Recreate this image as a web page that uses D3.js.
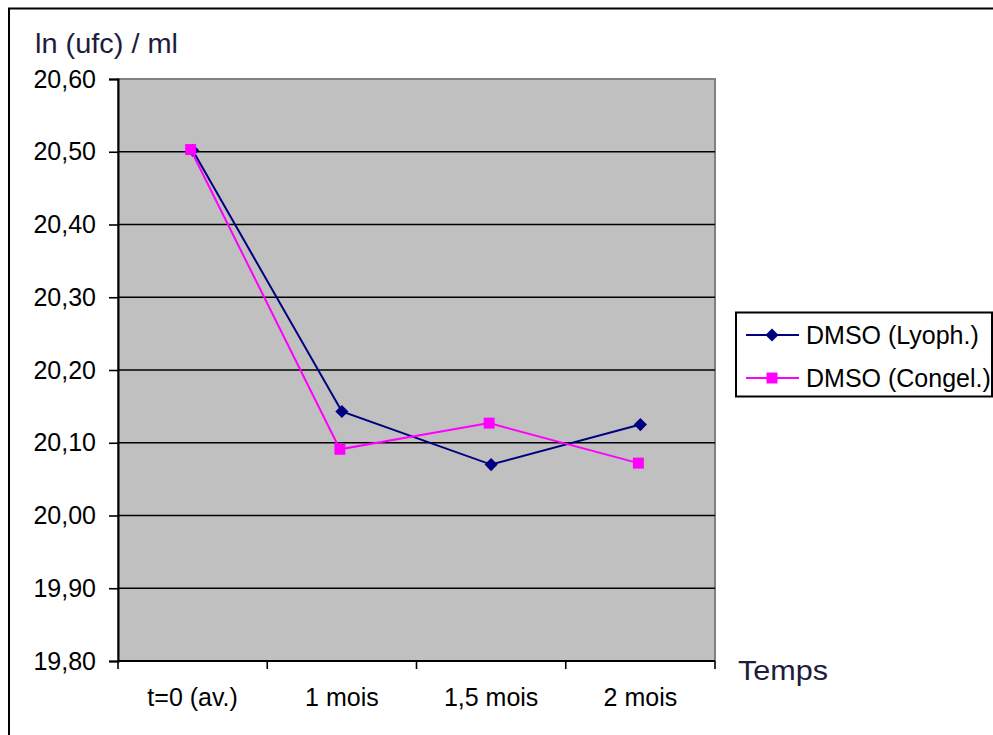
<!DOCTYPE html>
<html>
<head>
<meta charset="utf-8">
<script src="https://cdn.jsdelivr.net/npm/d3@7"></script>
<style>
  html, body { margin: 0; padding: 0; background: #fff; }
  svg { display: block; }
  text { font-family: "Liberation Sans", Arial, sans-serif; }
</style>
</head>
<body>
<svg id="chart" width="993" height="735"></svg>
<script>
// Sampling times and ln(cfu)/ml measurements for both storage methods
const categories = ["t=0 (av.)", "1 mois", "1,5 mois", "2 mois"];
const lyophValues = [20.502, 20.143, 20.070, 20.125];
const congelValues = [20.503, 20.091, 20.127, 20.072];
const yTicks = [19.80, 19.90, 20.00, 20.10, 20.20, 20.30, 20.40, 20.50, 20.60];
const seriesNames = ["DMSO (Lyoph.)", "DMSO (Congel.)"];

const svg = d3.select("#chart");
const W = 993, H = 735;

// outer chart frame
svg.append("rect")
  .attr("x", 9).attr("y", 8.5)
  .attr("width", W + 20).attr("height", H + 20)
  .attr("fill", "#fff").attr("stroke", "#000").attr("stroke-width", 2);

const plot = { left: 118, right: 715, top: 79, bottom: 661 };

const x = d3.scaleBand().domain(categories).range([plot.left, plot.right]).padding(0);
const y = d3.scaleLinear().domain([19.80, 20.60]).range([plot.bottom, plot.top]);

// plot area
svg.append("rect")
  .attr("x", plot.left).attr("y", plot.top)
  .attr("width", plot.right - plot.left).attr("height", plot.bottom - plot.top)
  .attr("fill", "#c0c0c0").attr("stroke", "#808080").attr("stroke-width", 2);

// horizontal gridlines
svg.append("g").selectAll("line")
  .data(yTicks.filter(t => t > 19.80 && t < 20.60))
  .join("line")
  .attr("x1", plot.left).attr("x2", plot.right)
  .attr("y1", d => y(d)).attr("y2", d => y(d))
  .attr("stroke", "#000").attr("stroke-width", 1.6);

const fmt = v => v.toFixed(2).replace(".", ",");

// y axis
const yAxis = svg.append("g")
  .attr("transform", `translate(${plot.left},0)`)
  .call(d3.axisLeft(y).tickValues(yTicks).tickFormat(fmt).tickSize(9).tickPadding(13));
yAxis.select(".domain").attr("stroke", "#000").attr("stroke-width", 2);
yAxis.selectAll(".tick line").attr("stroke", "#000").attr("stroke-width", 1.6);
yAxis.selectAll(".tick text")
  .attr("font-size", 25).attr("fill", "#000")
  .attr("font-family", "'Liberation Sans', Arial, sans-serif");

// x axis with ticks at category boundaries
const xAxisG = svg.append("g").attr("transform", `translate(0,${plot.bottom})`);
xAxisG.append("line")
  .attr("x1", plot.left).attr("x2", plot.right)
  .attr("stroke", "#000").attr("stroke-width", 2);
const bounds = categories.map(c => x(c)).concat([x(categories[categories.length - 1]) + x.bandwidth()]);
xAxisG.selectAll("line.tk").data(bounds).join("line")
  .attr("class", "tk")
  .attr("x1", d => d).attr("x2", d => d)
  .attr("y1", 0).attr("y2", 8)
  .attr("stroke", "#000").attr("stroke-width", 1.6);
xAxisG.selectAll("text").data(categories).join("text")
  .attr("x", d => x(d) + x.bandwidth() / 2)
  .attr("y", 45)
  .attr("text-anchor", "middle")
  .attr("font-size", 25).attr("fill", "#000")
  .text(d => d);

// axis titles
svg.append("text").attr("x", 35).attr("y", 53)
  .attr("font-size", 28).attr("fill", "#1c1c3c")
  .attr("textLength", 143).attr("lengthAdjust", "spacingAndGlyphs")
  .text("ln (ufc) / ml");
svg.append("text").attr("x", 738).attr("y", 680)
  .attr("font-size", 28).attr("fill", "#1c1c3c")
  .attr("textLength", 90).attr("lengthAdjust", "spacingAndGlyphs")
  .text("Temps");

const cx = d => x(d) + x.bandwidth() / 2;
const line = d3.line().x(d => cx(d.c)).y(d => y(d.v));

const lyoph = categories.map((c, i) => ({ c, v: lyophValues[i] }));
const congel = categories.map((c, i) => ({ c, v: congelValues[i] }));

const diamond = d3.symbol().type(d3.symbolDiamond2).size(110);
const square = d3.symbol().type(d3.symbolSquare).size(120);

// Lyoph series
svg.append("path").datum(lyoph).attr("d", line)
  .attr("fill", "none").attr("stroke", "#000080").attr("stroke-width", 2);
svg.append("g").selectAll("path").data(lyoph).join("path")
  .attr("transform", d => `translate(${cx(d.c)},${y(d.v)})`)
  .attr("d", diamond).attr("fill", "#000080");

// Congel series
svg.append("path").datum(congel).attr("d", line)
  .attr("transform", "translate(-2,0)")
  .attr("fill", "none").attr("stroke", "#ff00ff").attr("stroke-width", 2);
svg.append("g").selectAll("path").data(congel).join("path")
  .attr("transform", d => `translate(${cx(d.c) - 2},${y(d.v)})`)
  .attr("d", square).attr("fill", "#ff00ff");

// legend
const lg = svg.append("g");
lg.append("rect").attr("x", 736).attr("y", 312.5).attr("width", 256).attr("height", 84)
  .attr("fill", "#fff").attr("stroke", "#000").attr("stroke-width", 2);
const legendItems = [
  { name: seriesNames[0], color: "#000080", sym: diamond, yy: 335 },
  { name: seriesNames[1], color: "#ff00ff", sym: square, yy: 378 }
];
legendItems.forEach(it => {
  lg.append("line").attr("x1", 746).attr("x2", 799).attr("y1", it.yy).attr("y2", it.yy)
    .attr("stroke", it.color).attr("stroke-width", 2);
  lg.append("path").attr("transform", `translate(772,${it.yy})`).attr("d", it.sym).attr("fill", it.color);
  lg.append("text").attr("x", 806).attr("y", it.yy + 9)
    .attr("font-size", 25).attr("fill", "#000").text(it.name);
});
</script>
</body>
</html>
